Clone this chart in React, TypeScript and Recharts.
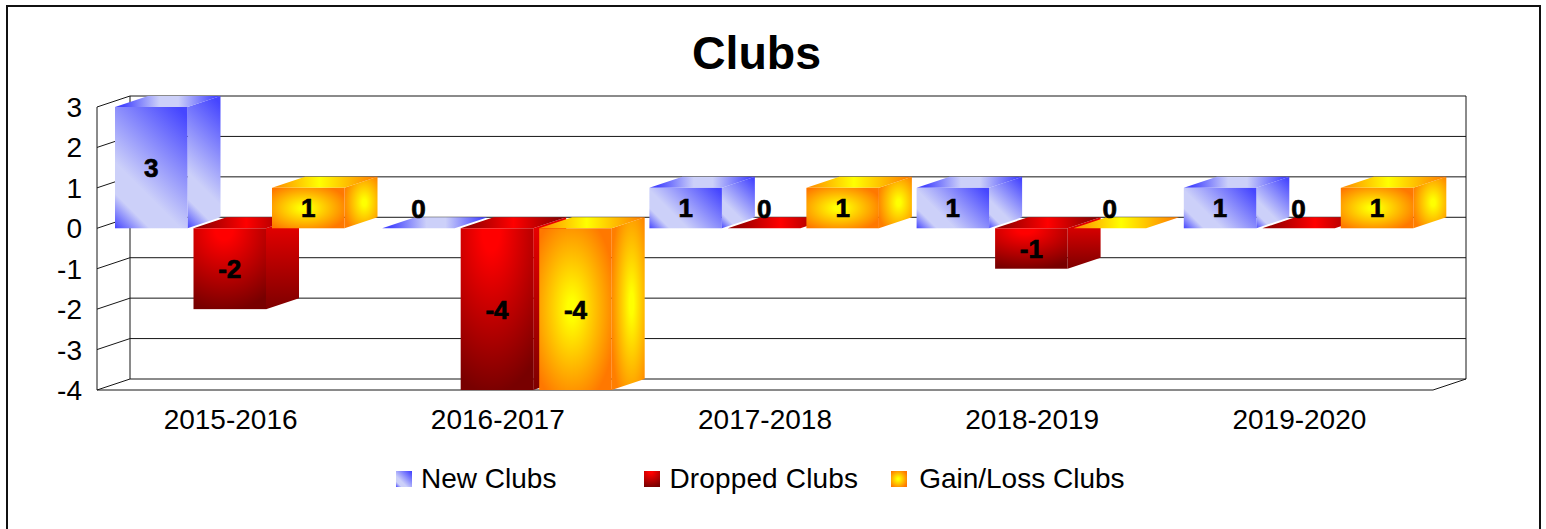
import { BarChart, Bar, XAxis, YAxis, CartesianGrid, LabelList, Legend, usePlotArea } from "recharts";

const seasons = ["2015-2016", "2016-2017", "2017-2018", "2018-2019", "2019-2020"];
const seriesNames = ["New Clubs", "Dropped Clubs", "Gain/Loss Clubs"];
const newClubs = [3, 0, 1, 1, 1];
const droppedClubs = [-2, -4, 0, -1, 0];
const gainLossClubs = [1, -4, 1, 0, 1];
const yTicks = [3, 2, 1, 0, -1, -2, -3, -4];

const FONT = "'Liberation Sans', Arial, sans-serif";
const DX = 33; // depth of the fake 3D box
const DY = 11;
const BAR_NUDGE = -1;
const LINE = "#161616";

const chartData = seasons.map((season, i) => ({
  season,
  newClubs: newClubs[i],
  droppedClubs: droppedClubs[i],
  gainLossClubs: gainLossClubs[i],
}));

function Gradients() {
  return (
    <svg width={0} height={0} style={{ position: "absolute" }}>
      <defs>
        <linearGradient id="blueFace" x1="1" y1="0" x2="0" y2="1">
          <stop offset="0.05" stopColor="#4646ff" />
          <stop offset="0.66" stopColor="#ccd0f9" />
          <stop offset="0.82" stopColor="#ccd0f9" />
          <stop offset="1" stopColor="#4646ff" />
        </linearGradient>
        <linearGradient id="blueTop" x1="0" y1="0" x2="1" y2="0">
          <stop offset="0.08" stopColor="#4646ff" />
          <stop offset="0.42" stopColor="#ccd0f9" />
          <stop offset="0.6" stopColor="#ccd0f9" />
          <stop offset="0.95" stopColor="#4646ff" />
        </linearGradient>
        <radialGradient id="redFace" cx="0.42" cy="0.02" r="1">
          <stop offset="0.12" stopColor="#ff0000" />
          <stop offset="1" stopColor="#780000" />
        </radialGradient>
        <linearGradient id="redSide" x1="0" y1="0" x2="0" y2="1">
          <stop offset="0.05" stopColor="#e80000" />
          <stop offset="1" stopColor="#7e0000" />
        </linearGradient>
        <linearGradient id="redTop" x1="0" y1="0" x2="1" y2="0">
          <stop offset="0.1" stopColor="#990000" />
          <stop offset="0.5" stopColor="#ff0000" />
          <stop offset="0.95" stopColor="#880000" />
        </linearGradient>
        <radialGradient id="orangeFace" cx="0.45" cy="0.5" r="0.62">
          <stop offset="0.1" stopColor="#ffff00" />
          <stop offset="1" stopColor="#ff7800" />
        </radialGradient>
        <radialGradient id="orangeSide" cx="0.6" cy="0.5" r="0.65">
          <stop offset="0.1" stopColor="#ffff00" />
          <stop offset="1" stopColor="#ff7e00" />
        </radialGradient>
        <linearGradient id="orangeTop" x1="0" y1="0" x2="1" y2="0">
          <stop offset="0.05" stopColor="#ff9400" />
          <stop offset="0.45" stopColor="#ffff00" />
          <stop offset="1" stopColor="#ff7800" />
        </linearGradient>
      </defs>
    </svg>
  );
}

// true 45 degree blue sheen, the bounding box units would skew it on tall bars
function sheen(id: string, x: number, y: number, w: number, h: number) {
  const d = (w + h) / 4;
  const cx = x + w / 2;
  const cy = y + h / 2;
  return (
    <linearGradient id={id} href="#blueFace" gradientUnits="userSpaceOnUse" x1={cx + d} y1={cy - d} x2={cx - d} y2={cy + d} />
  );
}

function makeBox(face: string, side: string, top: string) {
  return function Box(props: any) {
    const { y, width, height } = props;
    const x = props.x + BAR_NUDGE;
    const y0 = Math.min(y, y + height);
    const y1 = Math.max(y, y + height);
    const r = x + width;
    const solid = y1 - y0 > 0.5;
    const isBlue = face === "blueFace";
    const faceId = isBlue ? `blueF${Math.round(x)}` : face;
    const sideId = isBlue ? `blueS${Math.round(x)}` : side;
    return (
      <g>
        {isBlue && solid && (
          <defs>
            {sheen(faceId, x, y0, width, y1 - y0)}
            {sheen(sideId, r, y0 - DY, DX, y1 - y0 + DY)}
          </defs>
        )}
        {solid && (
          <polygon points={`${r},${y0} ${r + DX},${y0 - DY} ${r + DX},${y1 - DY} ${r},${y1}`} fill={`url(#${sideId})`} />
        )}
        <polygon points={`${x},${y0} ${x + DX},${y0 - DY} ${r + DX},${y0 - DY} ${r},${y0}`} fill={`url(#${top})`} />
        {solid && <rect x={x} y={y0} width={width} height={y1 - y0} fill={`url(#${faceId})`} />}
      </g>
    );
  };
}

function ValueLabel(props: any) {
  const { x, y, width, height, value } = props;
  // zero bars have nothing to sit in, Excel lifts the label above the slab
  const cy = value === 0 ? y - 20 : y + height / 2;
  return (
    <text
      x={x + width / 2 - 1}
      y={cy}
      dy="0.36em"
      textAnchor="middle"
      fontFamily={FONT}
      fontWeight="bold"
      fontSize={26}
      fill="#000"
      stroke="#000"
      strokeWidth={0.7}
    >
      {value}
    </text>
  );
}

// back wall and floor of the box
function Walls() {
  const plot = usePlotArea();
  if (!plot) return null;
  const left = plot.x;
  const right = plot.x + plot.width;
  const top = plot.y;
  const bottom = plot.y + plot.height;
  return (
    <g stroke={LINE} strokeWidth={1} fill="none">
      <line x1={left} y1={top} x2={left} y2={bottom} />
      <line x1={left + DX} y1={top - DY} x2={left + DX} y2={bottom - DY} />
      <line x1={right + DX} y1={top - DY} x2={right + DX} y2={bottom - DY} />
      <line x1={left} y1={bottom} x2={right} y2={bottom} />
      <line x1={right} y1={bottom} x2={right + DX} y2={bottom - DY} />
    </g>
  );
}

function gridLine(props: any) {
  const { x1, x2, y1, key } = props;
  return (
    <g key={key} stroke={LINE} strokeWidth={1}>
      <line x1={x1} y1={y1} x2={x1 + DX} y2={y1 - DY} />
      <line x1={x1 + DX} y1={y1 - DY} x2={x2 + DX} y2={y1 - DY} />
    </g>
  );
}

const legendSwatches = ["blueFace", "redFace", "orangeFace"];
const legendGaps = [88, 33, 0];
const swatchGaps = [9, 9, 12];

function ClubsLegend({ payload }: any) {
  return (
    <div style={{ display: "flex", alignItems: "center", fontFamily: FONT, fontSize: 28, color: "#000", whiteSpace: "nowrap" }}>
      {(payload || []).map((entry: any, i: number) => (
        <span key={entry.value} style={{ display: "flex", alignItems: "center", marginRight: legendGaps[i] }}>
          <svg width={16} height={16} style={{ marginRight: swatchGaps[i] }}>
            <rect width={16} height={16} fill={`url(#${legendSwatches[i]})`} />
          </svg>
          <span style={{ letterSpacing: i === 1 ? 0.15 : 0 }}>{entry.value}</span>
        </span>
      ))}
    </div>
  );
}

const blueBox = makeBox("blueFace", "blueFace", "blueTop");
const redBox = makeBox("redFace", "redSide", "redTop");
const orangeBox = makeBox("orangeFace", "orangeSide", "orangeTop");

export default function App() {
  return (
    <div style={{ position: "absolute", left: 0, top: 0, width: 1546, height: 529, overflow: "hidden", background: "#fff" }}>
      <div style={{ position: "absolute", left: 6, top: 5, width: 1531, height: 600, border: "2px solid #111" }} />
      <div style={{ position: "absolute", left: 0, width: 1513, top: 26, textAlign: "center", fontFamily: FONT, fontWeight: "bold", fontSize: 46.5, lineHeight: "54px", color: "#000" }}>
        Clubs
      </div>
      <Gradients />
      <BarChart
        width={1546}
        height={529}
        data={chartData}
        barSize={72.5}
        barGap={6}
        margin={{ top: 107, right: 113, bottom: 49, left: 0 }}
        style={{ position: "absolute", left: 0, top: 0 }}
      >
        <CartesianGrid vertical={false} horizontal={gridLine} />
        <Walls />
        <XAxis
          dataKey="season"
          height={50}
          interval={0}
          axisLine={false}
          tickLine={false}
          tickSize={0}
          tickMargin={19}
          tick={{ fontSize: 28, fontFamily: FONT, fill: "#000" }}
        />
        <YAxis
          width={97}
          domain={[-4, 3]}
          ticks={yTicks}
          interval={0}
          axisLine={false}
          tickLine={false}
          tickSize={0}
          tickMargin={15}
          tick={{ fontSize: 28, fontFamily: FONT, fill: "#000" }}
        />
        <Legend
          content={<ClubsLegend />}
          itemSorter={(entry: any) => seriesNames.indexOf(entry.value)}
          wrapperStyle={{ position: "absolute", left: 396, top: 463, width: "auto", height: 40, bottom: "auto" }}
        />
        <Bar dataKey="newClubs" name={seriesNames[0]} fill="#4646ff" shape={blueBox} isAnimationActive={false}>
          <LabelList dataKey="newClubs" content={<ValueLabel />} />
        </Bar>
        <Bar dataKey="droppedClubs" name={seriesNames[1]} fill="#ff0000" shape={redBox} isAnimationActive={false}>
          <LabelList dataKey="droppedClubs" content={<ValueLabel />} />
        </Bar>
        <Bar dataKey="gainLossClubs" name={seriesNames[2]} fill="#ff9400" shape={orangeBox} isAnimationActive={false}>
          <LabelList dataKey="gainLossClubs" content={<ValueLabel />} />
        </Bar>
      </BarChart>
    </div>
  );
}
